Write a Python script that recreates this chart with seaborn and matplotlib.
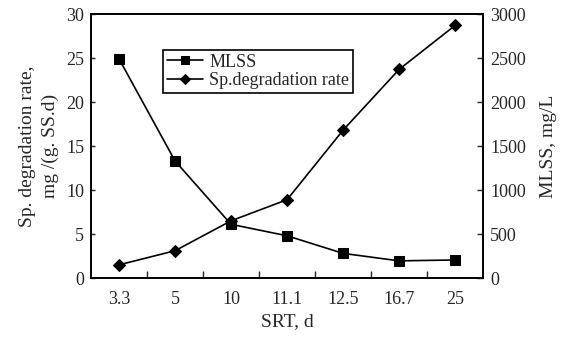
import matplotlib
matplotlib.use("Agg")
import matplotlib.pyplot as plt
import seaborn as sns
import pandas as pd
import numpy as np

# SRT categories (days)
srt = ["3.3", "5", "10", "11.1", "12.5", "16.7", "25"]
# MLSS, mg/L (right axis)
mlss = [2490, 1330, 610, 480, 280, 195, 205]
# Specific degradation rate, mg/(g SS.d) (left axis)
sp_rate = [1.5, 3.1, 6.5, 8.9, 16.8, 23.7, 28.7]

sns.set_theme(style="ticks")
plt.rcParams["font.family"] = ["Liberation Serif", "DejaVu Serif"]
plt.rcParams["font.size"] = 13

df = pd.DataFrame({"SRT": srt, "MLSS": mlss, "Sp": sp_rate})

fig = plt.figure(figsize=(5.69, 3.46), dpi=100)
ax = fig.add_axes([0.160, 0.1965, 0.689, 0.763])
ax2 = ax.twinx()

sns.lineplot(data=df, x="SRT", y="Sp", ax=ax, color="black", lw=1.2,
             marker="D", markersize=6, markeredgecolor="black", sort=False,
             label="Sp.degradation rate", legend=False)
sns.lineplot(data=df, x="SRT", y="MLSS", ax=ax2, color="black", lw=1.2,
             marker="s", markersize=6.5, markeredgecolor="black", sort=False,
             label="MLSS", legend=False)

ax.set_xlim(-0.5, len(srt) - 0.5)
ax.set_ylim(0, 30)
ax2.set_ylim(0, 3000)
ax.set_yticks(np.arange(0, 31, 5))
ax2.set_yticks(np.arange(0, 3001, 500))

ax.set_xticks(np.arange(len(srt)))
ax.set_xticklabels(srt)
ax.set_xticks(np.arange(0.5, len(srt) - 1, 1.0), minor=True)
ax.tick_params(axis="x", which="major", length=0, pad=9, labelsize=13)
ax.tick_params(axis="x", which="minor", direction="in", length=5, width=1)
ax.tick_params(axis="y", direction="in", length=3, width=1, pad=5, labelsize=13)
ax2.tick_params(axis="y", direction="in", length=4, width=1, pad=5, labelsize=13)

for a in (ax, ax2):
    for s in a.spines.values():
        s.set_linewidth(1.2)
        s.set_color("black")

ax.set_xlabel("SRT, d", fontsize=14, labelpad=4)
ax.set_ylabel("Sp. degradation rate,\nmg /(g. SS.d)", fontsize=14, labelpad=5,
              linespacing=1.45)
ax2.set_ylabel("MLSS, mg/L", fontsize=14, labelpad=10)

h1, l1 = ax2.get_legend_handles_labels()
h2, l2 = ax.get_legend_handles_labels()
leg = ax.legend(h1 + h2, l1 + l2, loc="upper left",
                bbox_to_anchor=(0.184, 0.864), frameon=True, fancybox=False,
                edgecolor="black", framealpha=1, fontsize=13,
                handlelength=2.0, handletextpad=0.35, borderpad=0.2,
                labelspacing=0.1, markerscale=0.8, borderaxespad=0)
leg.get_frame().set_linewidth(1.2)

fig.savefig("out.png", dpi=100)
